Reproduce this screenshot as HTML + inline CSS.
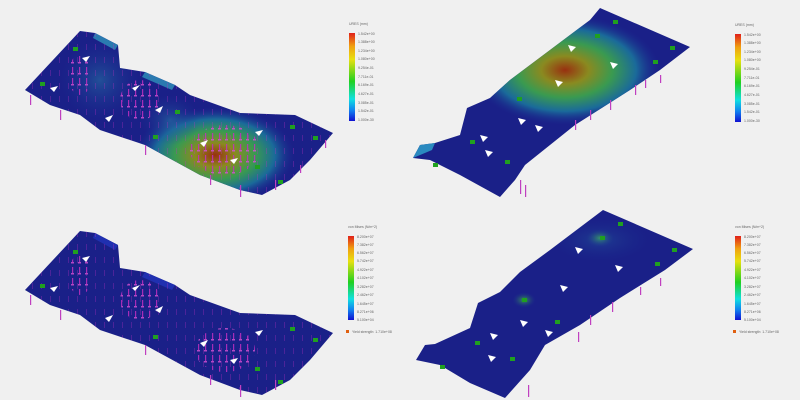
<!DOCTYPE html>
<html><head><style>
body{margin:0;background:#f0f0f0;}
svg{display:block;font-family:"Liberation Sans",sans-serif;}
</style></head><body>
<svg width="800" height="400" viewBox="0 0 800 400">
<defs>
<linearGradient id="bar" x1="0" y1="0" x2="0" y2="1">
<stop offset="0" stop-color="#e0201a"/><stop offset="0.15" stop-color="#f0a010"/><stop offset="0.3" stop-color="#e8e010"/><stop offset="0.55" stop-color="#20d020"/><stop offset="0.75" stop-color="#10e0e0"/><stop offset="0.88" stop-color="#1080f0"/><stop offset="1" stop-color="#1010d0"/>
</linearGradient>
<radialGradient id="hot1" cx="0.5" cy="0.5" r="0.5">
<stop offset="0" stop-color="#983010"/><stop offset="0.25" stop-color="#8a8a20"/><stop offset="0.5" stop-color="#3a9a50"/><stop offset="0.75" stop-color="#1a6a9a"/><stop offset="1" stop-color="#1a2a90" stop-opacity="0"/>
</radialGradient>
<radialGradient id="cy" cx="0.5" cy="0.5" r="0.5">
<stop offset="0" stop-color="#2a80a8"/><stop offset="1" stop-color="#1a3a9a" stop-opacity="0"/>
</radialGradient>
<radialGradient id="gl" cx="0.5" cy="0.5" r="0.5">
<stop offset="0" stop-color="#3a9a50"/><stop offset="1" stop-color="#1a2a90" stop-opacity="0"/>
</radialGradient>
<pattern id="pk" width="7" height="11" patternUnits="userSpaceOnUse">
<rect x="2" y="1" width="1.2" height="7" fill="#c030c0"/>
<rect x="1" y="7" width="3" height="1.5" fill="#d050d0"/>
</pattern>
<pattern id="pk2" width="9" height="13" patternUnits="userSpaceOnUse" patternTransform="translate(3,4)">
<rect x="2" y="1" width="1" height="6" fill="#c030c0"/>
</pattern>
<polygon id="s1" points="25,90 80,31 95,33 118,45 120,68 145,72 175,85 190,95 240,113 295,115 333,133 310,160 290,180 262,195 240,190 200,175 145,145 100,130 80,115 50,105"/>
<clipPath id="c1"><use href="#s1"/></clipPath>
<clipPath id="c2"><polygon points="600,8 690,47 660,70 630,90 575,125 525,165 515,180 500,197 460,175 430,160 413,158 420,145 435,143 460,135 467,108 490,98 510,80 550,50 590,20"/></clipPath>
<clipPath id="c4"><polygon points="603,210 693,249 665,270 620,298 580,325 545,345 530,370 505,398 470,383 440,365 416,360 425,345 435,344 470,328 478,303 500,292 520,272 550,250"/></clipPath>
</defs>

<!-- panel 1 -->
<g>
<use href="#s1" fill="#1a2088"/>
<g clip-path="url(#c1)">
<ellipse cx="215" cy="155" rx="80" ry="48" fill="url(#hot1)"/>
<ellipse cx="100" cy="80" rx="40" ry="40" fill="url(#cy)" opacity="0.5"/>
<ellipse cx="170" cy="120" rx="30" ry="25" fill="url(#cy)" opacity="0.5"/>
</g>
<polygon points="95,33 118,45 115,50 93,38" fill="#2a7ab0"/>
<polygon points="145,72 175,85 172,90 142,77" fill="#2a7ab0"/>
<g clip-path="url(#c1)" opacity="0.85">
<rect x="20" y="30" width="320" height="170" fill="url(#pk2)" opacity="0.35"/>
<ellipse cx="225" cy="150" rx="35" ry="25" fill="url(#pk)"/>
<ellipse cx="140" cy="100" rx="20" ry="20" fill="url(#pk)"/>
<ellipse cx="80" cy="75" rx="12" ry="20" fill="url(#pk)"/>
</g>
<g fill="#c040c0"><rect x="30" y="95" width="1.2" height="10"/><rect x="60" y="110" width="1.2" height="10"/><rect x="145" y="145" width="1.2" height="10"/><rect x="210" y="175" width="1.2" height="10"/><rect x="240" y="185" width="1.2" height="12"/><rect x="275" y="180" width="1.2" height="10"/><rect x="325" y="140" width="1.2" height="8"/><rect x="300" y="165" width="1.2" height="8"/></g>
<g fill="#fff"><polygon points="82,58 90,56 86,62"/><polygon points="50,88 58,86 54,92"/><polygon points="132,88 140,85 135,91"/><polygon points="105,118 113,115 109,122"/><polygon points="155,110 163,106 160,113"/><polygon points="200,143 208,140 204,147"/><polygon points="230,160 238,158 234,164"/><polygon points="255,132 263,130 259,136"/></g>
<g fill="#20a020"><rect x="73" y="47" width="5" height="4"/><rect x="40" y="82" width="5" height="4"/><rect x="153" y="135" width="5" height="4"/><rect x="175" y="110" width="5" height="4"/><rect x="255" y="165" width="5" height="4"/><rect x="290" y="125" width="5" height="4"/><rect x="313" y="136" width="5" height="4"/><rect x="278" y="180" width="5" height="4"/></g>
</g>

<!-- panel 2 -->
<g>
<polygon points="600,8 690,47 660,70 630,90 575,125 525,165 515,180 500,197 460,175 430,160 413,158 420,145 435,143 460,135 467,108 490,98 510,80 550,50 590,20" fill="#1a2088"/>
<g clip-path="url(#c2)">
<ellipse cx="565" cy="70" rx="95" ry="55" fill="url(#hot1)"/>
</g>
<polygon points="413,158 420,145 435,143 432,150" fill="#2a8ac0"/>
<g fill="#fff"><polygon points="568,45 576,47 571,52"/><polygon points="610,62 618,64 613,69"/><polygon points="555,80 563,82 558,87"/><polygon points="518,118 526,120 521,125"/><polygon points="480,135 488,137 483,142"/><polygon points="535,125 543,127 538,132"/><polygon points="485,150 493,152 488,157"/></g>
<g fill="#20a020"><rect x="613" y="20" width="5" height="4"/><rect x="595" y="34" width="5" height="4"/><rect x="653" y="60" width="5" height="4"/><rect x="670" y="46" width="5" height="4"/><rect x="517" y="97" width="5" height="4"/><rect x="470" y="140" width="5" height="4"/><rect x="505" y="160" width="5" height="4"/><rect x="433" y="163" width="5" height="4"/></g>
<g fill="#c040c0"><rect x="660" y="75" width="1.2" height="8"/><rect x="645" y="80" width="1.2" height="8"/><rect x="635" y="85" width="1.2" height="10"/><rect x="610" y="100" width="1.2" height="10"/><rect x="590" y="110" width="1.2" height="10"/><rect x="575" y="120" width="1.2" height="10"/><rect x="520" y="180" width="1.2" height="14"/><rect x="525" y="185" width="1.2" height="12"/></g>
</g>

<!-- panel 3 -->
<g transform="translate(0,200)">
<use href="#s1" fill="#1a2088"/>
<polygon points="95,33 118,45 115,50 93,38" fill="#2030b0"/>
<polygon points="145,72 175,85 172,90 142,77" fill="#2030b0"/>
<g clip-path="url(#c1)" opacity="0.85">
<rect x="20" y="30" width="320" height="170" fill="url(#pk2)" opacity="0.35"/>
<ellipse cx="225" cy="150" rx="30" ry="22" fill="url(#pk)"/>
<ellipse cx="140" cy="100" rx="20" ry="20" fill="url(#pk)"/>
<ellipse cx="80" cy="75" rx="12" ry="20" fill="url(#pk)"/>
</g>
<g fill="#c040c0"><rect x="30" y="95" width="1.2" height="10"/><rect x="60" y="110" width="1.2" height="10"/><rect x="145" y="145" width="1.2" height="10"/><rect x="210" y="175" width="1.2" height="10"/><rect x="240" y="185" width="1.2" height="12"/><rect x="275" y="180" width="1.2" height="10"/></g>
<g fill="#fff"><polygon points="82,58 90,56 86,62"/><polygon points="50,88 58,86 54,92"/><polygon points="132,88 140,85 135,91"/><polygon points="105,118 113,115 109,122"/><polygon points="155,110 163,106 160,113"/><polygon points="200,143 208,140 204,147"/><polygon points="230,160 238,158 234,164"/><polygon points="255,132 263,130 259,136"/></g>
<g fill="#20a020"><rect x="73" y="50" width="5" height="4"/><rect x="40" y="84" width="5" height="4"/><rect x="153" y="135" width="5" height="4"/><rect x="255" y="167" width="5" height="4"/><rect x="290" y="127" width="5" height="4"/><rect x="313" y="138" width="5" height="4"/><rect x="278" y="180" width="5" height="4"/></g>
</g>

<!-- panel 4 -->
<g>
<polygon points="603,210 693,249 665,270 620,298 580,325 545,345 530,370 505,398 470,383 440,365 416,360 425,345 435,344 470,328 478,303 500,292 520,272 550,250" fill="#1a2088"/>
<g clip-path="url(#c4)">
<ellipse cx="600" cy="238" rx="14" ry="9" fill="url(#gl)"/>
<ellipse cx="524" cy="300" rx="12" ry="8" fill="url(#gl)"/>
<ellipse cx="600" cy="240" rx="50" ry="22" fill="url(#cy)" opacity="0.3"/>
</g>
<g fill="#fff"><polygon points="575,247 583,249 578,254"/><polygon points="615,265 623,267 618,272"/><polygon points="560,285 568,287 563,292"/><polygon points="520,320 528,322 523,327"/><polygon points="490,333 498,335 493,340"/><polygon points="545,330 553,332 548,337"/><polygon points="488,355 496,357 491,362"/></g>
<g fill="#20a020"><rect x="618" y="222" width="5" height="4"/><rect x="600" y="236" width="5" height="4"/><rect x="672" y="248" width="5" height="4"/><rect x="655" y="262" width="5" height="4"/><rect x="522" y="298" width="5" height="4"/><rect x="555" y="320" width="5" height="4"/><rect x="475" y="341" width="5" height="4"/><rect x="510" y="357" width="5" height="4"/><rect x="440" y="365" width="5" height="4"/></g>
<g fill="#c040c0"><rect x="660" y="278" width="1.2" height="8"/><rect x="640" y="287" width="1.2" height="8"/><rect x="612" y="302" width="1.2" height="10"/><rect x="590" y="315" width="1.2" height="10"/><rect x="578" y="332" width="1.2" height="10"/><rect x="528" y="385" width="1.2" height="12"/></g>
</g>

<!-- legends -->
<g font-size="3.5" fill="#666">
<text x="349" y="25">URES (mm)</text>
<rect x="349" y="33" width="6" height="88" fill="url(#bar)"/>
<text x="358" y="35">1.542e+00</text><text x="358" y="43">1.388e+00</text><text x="358" y="52">1.234e+00</text><text x="358" y="60">1.080e+00</text><text x="358" y="69">9.254e-01</text><text x="358" y="78">7.711e-01</text><text x="358" y="86">6.169e-01</text><text x="358" y="95">4.627e-01</text><text x="358" y="104">3.085e-01</text><text x="358" y="112">1.542e-01</text><text x="358" y="121">1.000e-30</text>

<text x="735" y="26">URES (mm)</text>
<rect x="735" y="34" width="6" height="88" fill="url(#bar)"/>
<text x="744" y="36">1.542e+00</text><text x="744" y="44">1.388e+00</text><text x="744" y="53">1.234e+00</text><text x="744" y="61">1.080e+00</text><text x="744" y="70">9.254e-01</text><text x="744" y="79">7.711e-01</text><text x="744" y="87">6.169e-01</text><text x="744" y="96">4.627e-01</text><text x="744" y="105">3.085e-01</text><text x="744" y="113">1.542e-01</text><text x="744" y="122">1.000e-30</text>

<text x="348" y="228">von Mises (N/m^2)</text>
<rect x="348" y="236" width="6" height="84" fill="url(#bar)"/>
<text x="357" y="238">8.200e+07</text><text x="357" y="246">7.382e+07</text><text x="357" y="254">6.562e+07</text><text x="357" y="262">5.742e+07</text><text x="357" y="271">4.922e+07</text><text x="357" y="279">4.102e+07</text><text x="357" y="288">3.282e+07</text><text x="357" y="296">2.462e+07</text><text x="357" y="305">1.645e+07</text><text x="357" y="313">8.271e+06</text><text x="357" y="321">5.100e+04</text>
<rect x="346" y="330" width="3" height="3" fill="#e06010"/><text x="352" y="333">Yield strength: 1.710e+08</text>

<text x="735" y="228">von Mises (N/m^2)</text>
<rect x="735" y="236" width="6" height="84" fill="url(#bar)"/>
<text x="744" y="238">8.200e+07</text><text x="744" y="246">7.382e+07</text><text x="744" y="254">6.562e+07</text><text x="744" y="262">5.742e+07</text><text x="744" y="271">4.922e+07</text><text x="744" y="279">4.102e+07</text><text x="744" y="288">3.282e+07</text><text x="744" y="296">2.462e+07</text><text x="744" y="305">1.645e+07</text><text x="744" y="313">8.271e+06</text><text x="744" y="321">5.100e+04</text>
<rect x="733" y="330" width="3" height="3" fill="#e06010"/><text x="739" y="333">Yield strength: 1.710e+08</text>
</g>
</svg>
</body></html>
